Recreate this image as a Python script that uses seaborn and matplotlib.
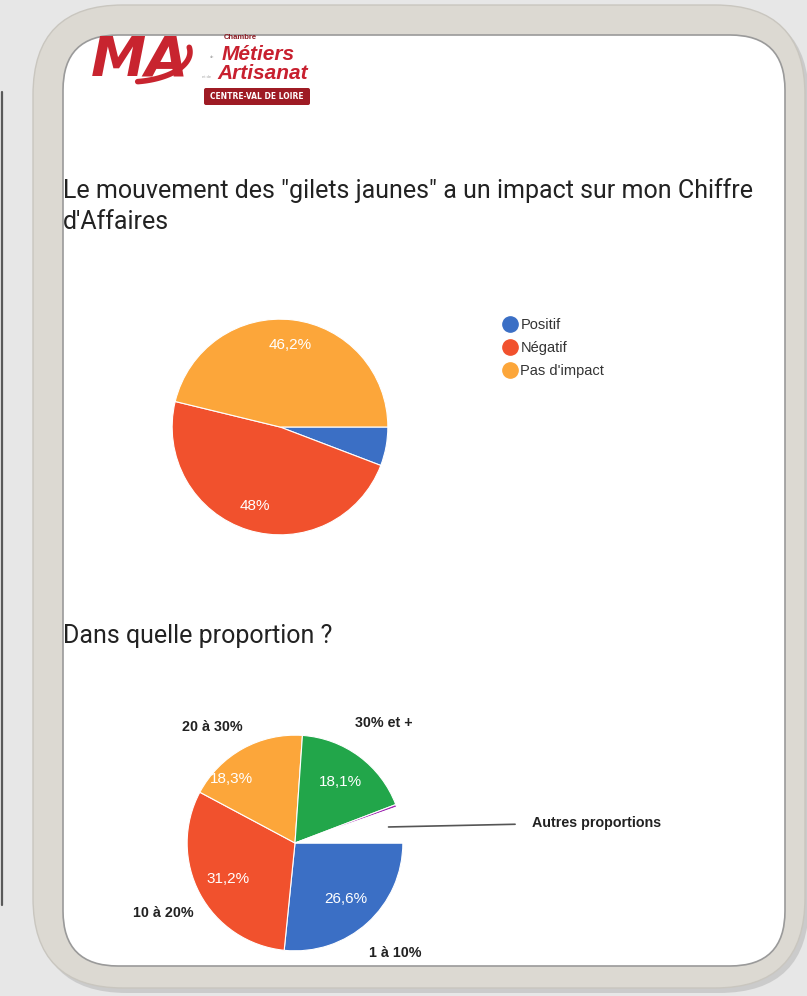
import matplotlib
matplotlib.use("Agg")
import matplotlib.pyplot as plt
import seaborn as sns
import numpy as np
from matplotlib.patches import FancyBboxPatch
from matplotlib.lines import Line2D

# données
impact_labels = ["Positif", "Négatif", "Pas d'impact"]
impact_values = [5.8, 48.0, 46.2]
impact_colors = ["#3b6fc5", "#f1512d", "#fca63a"]

prop_labels = ["1 à 10%", "10 à 20%", "20 à 30%", "30% et +", "Autre", "Autres proportions"]
prop_values = [26.6, 31.2, 18.3, 18.1, 0.4, 5.4]
prop_colors = ["#3b6fc5", "#f1512d", "#fca63a", "#22a64a", "#9c27b0", "#ffffff"]

title1 = "Le mouvement des \"gilets jaunes\" a un impact sur mon Chiffre\nd'Affaires"
title2 = "Dans quelle proportion ?"

sns.set_theme(style="white")
plt.rcParams["font.family"] = ["Liberation Sans", "DejaVu Sans"]

W, H = 807, 996
fig = plt.figure(figsize=(W / 100, H / 100), dpi=100)
fig.patch.set_facecolor("#e7e7e7")

# fond : cadre arrondi (coordonnées en pixels)
bg = fig.add_axes([0, 0, 1, 1])
bg.set_xlim(0, W)
bg.set_ylim(H, 0)
bg.axis("off")

bg.plot([2, 2], [92, 905], color="#5a5a5a", lw=1.6)
bg.add_patch(FancyBboxPatch((37, 9), 772, 984, boxstyle="round,pad=0,rounding_size=90",
                            fc="#b9b9b9", ec="none", alpha=0.6))
bg.add_patch(FancyBboxPatch((33, 5), 772, 983, boxstyle="round,pad=0,rounding_size=90",
                            fc="#dcd9d2", ec="#c9c6bf", lw=1))
panel = FancyBboxPatch((63, 35), 722, 931, boxstyle="round,pad=0,rounding_size=55",
                       fc="white", ec="#9a9a9a", lw=1.2)
bg.add_patch(panel)

# logo CMA
t = bg.text(140, 60, "MA", color="#c8242f", fontsize=40, fontweight="bold", fontstyle="italic",
            ha="center", va="center", family="DejaVu Sans")
t.set_clip_path(panel)
tt = np.linspace(np.pi * 0.55, np.pi * 1.05, 50)
bg.plot(128 + 62 * np.cos(tt) * -1, 52 + 30 * np.sin(tt), color="#c8242f", lw=4,
        solid_capstyle="round", clip_path=panel)
bg.text(240, 37, "Chambre", color="#8b1a22", fontsize=5.5, fontweight="bold", ha="center", va="center")
bg.text(222, 54, "Métiers", color="#c8202f", fontsize=15, fontweight="bold", fontstyle="italic", va="center")
bg.text(217, 73, "Artisanat", color="#c8202f", fontsize=15, fontweight="bold", fontstyle="italic", va="center")
bg.text(214, 57, "de", color="#aaaaaa", fontsize=3, ha="right", va="center")
bg.text(211, 77, "et de", color="#aaaaaa", fontsize=3, ha="right", va="center")
bg.add_patch(FancyBboxPatch((204, 88), 106, 17, boxstyle="round,pad=0,rounding_size=2",
                            fc="#9e1b24", ec="none"))
bg.text(257, 96.5, "CENTRE-VAL DE LOIRE", color="white", fontsize=6, fontweight="bold",
        family="DejaVu Sans", fontstretch="condensed", ha="center", va="center")

# titres
bg.text(63, 206, title1, fontsize=18, color="#222222", family=["Roboto", "DejaVu Sans"],
        va="center", linespacing=1.33)
bg.text(63, 636, title2, fontsize=18, color="#222222", family=["Roboto", "DejaVu Sans"],
        va="center")


def pie_axes(cx, cy, r):
    return fig.add_axes([(cx - r) / W, 1 - (cy + r) / H, 2 * r / W, 2 * r / H])


def fmt_pct(pct):
    if pct < 10:
        return ""
    s = f"{pct:.1f}".replace(".", ",")
    return s.replace(",0", "") + "%"


# camembert 1
ax1 = pie_axes(280, 427, 110)
w1, _, a1 = ax1.pie(impact_values, colors=impact_colors, startangle=0, counterclock=False,
                    autopct=fmt_pct, pctdistance=0.77,
                    wedgeprops=dict(edgecolor="white", linewidth=0.8))
for a in a1:
    a.set_color("white")
    a.set_fontsize(11)
ax1.set_xlim(-1.02, 1.02)
ax1.set_ylim(-1.02, 1.02)

handles = [Line2D([], [], marker="o", ls="", color=c, markersize=11) for c in impact_colors]
fig.legend(handles, impact_labels, loc="upper left", bbox_to_anchor=(494 / W, 1 - 311 / H),
           frameon=False, fontsize=10.5, handletextpad=0.1, labelspacing=0.62,
           labelcolor="#333333", borderpad=0, handlelength=1.2)

# camembert 2
ax2 = pie_axes(295, 843, 110)
shown = [l if i < 4 else "" for i, l in enumerate(prop_labels)]
w2, t2, a2 = ax2.pie(prop_values, labels=shown, colors=prop_colors, startangle=0,
                     counterclock=False, autopct=fmt_pct, pctdistance=0.7, labeldistance=1.38,
                     wedgeprops=dict(edgecolor="white", linewidth=0.8))
for a in a2:
    a.set_color("white")
    a.set_fontsize(11)
for tx in t2:
    tx.set_ha("center")
    tx.set_fontsize(10.3)
    tx.set_fontweight("bold")
    tx.set_color("#222222")
# petits décalages comme dans Google Charts
x, y = a2[2].get_position()
a2[2].set_position((x - 0.25, y - 0.02))
x, y = t2[2].get_position()
t2[2].set_position((x - 0.1, y - 0.13))
ax2.set_xlim(-1.02, 1.02)
ax2.set_ylim(-1.02, 1.02)

# étiquette « Autres proportions »
last = w2[-1]
mid = np.deg2rad((last.theta1 + last.theta2) / 2)
ax2.annotate(prop_labels[-1], xy=(0.88 * np.cos(mid), 0.88 * np.sin(mid)), xytext=(2.2, 0.19),
             fontsize=10.3, fontweight="bold", color="#222222", va="center", ha="left",
             arrowprops=dict(arrowstyle="-", color="#555555", lw=1.2, shrinkA=10, shrinkB=0),
             annotation_clip=False)

plt.savefig("out.png", dpi=100, facecolor=fig.get_facecolor())
